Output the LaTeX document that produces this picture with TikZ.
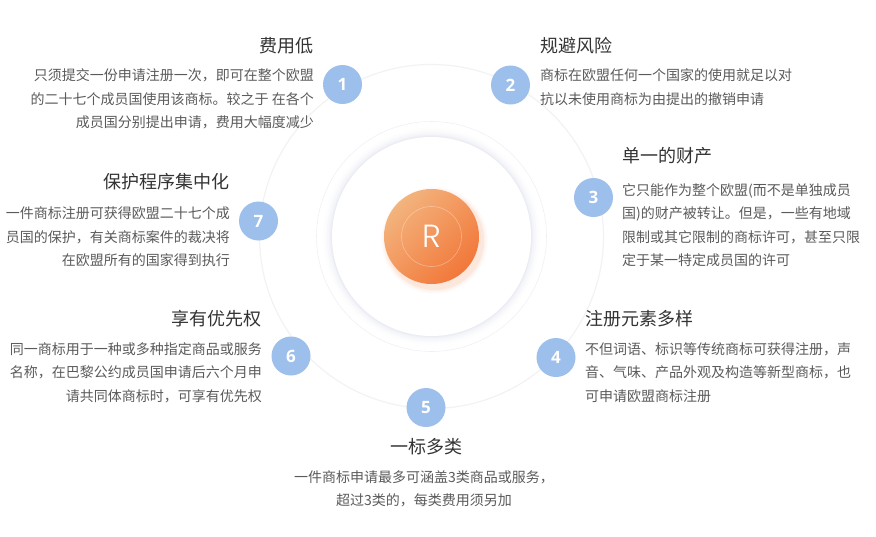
\documentclass[tikz,border=0pt]{standalone}
\usepackage{fontspec}
\setmainfont{Noto Sans CJK SC}
\newfontfamily\numfont{Open Sans}
\newfontfamily\logofont{Poppins Light}
\definecolor{numblue}{HTML}{9DBFEB}
\definecolor{titlegray}{HTML}{333333}
\definecolor{textgray}{HTML}{5A5A5A}
\definecolor{ringgray}{HTML}{D5DAE8}
\definecolor{orangelt}{HTML}{F3B47D}
\definecolor{orangedk}{HTML}{F2773A}

\tikzset{
  numcirc/.style={circle, fill=numblue, minimum size=39pt, inner sep=0pt,
    text=white, font=\numfont\bfseries\fontsize{17}{17}\selectfont},
  itemtitle/.style={inner sep=0pt, text=titlegray, font=\fontsize{18}{18}\selectfont},
  itemtext/.style={inner sep=0pt, text=textgray, font=\fontsize{14}{23.5}\selectfont},
}

\begin{document}
\begin{tikzpicture}[x=1pt, y=-1pt]
    \useasboundingbox (0,0) rectangle (876,536);
    \coordinate (hub) at (431.5,236.5);

    % faint rings
    \draw[black!5, line width=1.2pt] (hub) circle (172);
    \draw[black!6, line width=0.6pt] (hub) circle (115);
    \foreach \r/\o in {109/0.04,107/0.06,105/0.09,103/0.12,101.5/0.16,100.5/0.2}
        \fill[ringgray, opacity=\o] (hub) circle (\r);
    \fill[white] (hub) circle (99.5);

    % orange badge
    \foreach \r/\o in {53/0.04,51/0.06,49.5/0.08}
        \fill[orangedk, opacity=\o] ([shift={(3,4)}]hub) circle (\r);
    \shade[left color=orangelt, right color=orangedk, shading angle=45] (hub) circle (47.5);
    \draw[white, opacity=0.35, line width=0.6pt] (hub) circle (30);
    \node[text=white, font=\logofont\fontsize{32}{32}\selectfont] (logo) at (hub) {R};

    % numbers
    \node[numcirc] (c1) at (342.5,84.5) {1};
    \node[numcirc] (c2) at (510.5,85) {2};
    \node[numcirc] (c3) at (593.5,197.5) {3};
    \node[numcirc] (c4) at (556,357.5) {4};
    \node[numcirc] (c5) at (426,407.5) {5};
    \node[numcirc] (c6) at (291,356) {6};
    \node[numcirc] (c7) at (258.5,221) {7};

    % 1 (text nodes sit on the baseline of their last line)
    \node[itemtitle, anchor=base east] (t1) at (314,52) {费用低};
    \node[itemtext, anchor=base east, align=right] (b1) at (314,127.5)
        {只须提交一份申请注册一次，即可在整个欧盟\\的二十七个成员国使用该商标。较之于 在各个\\成员国分别提出申请，费用大幅度减少};
    % 2
    \node[itemtitle, anchor=base west] (t2) at (540,52.5) {规避风险};
    \node[itemtext, anchor=base west, align=left] (b2) at (540,104)
        {商标在欧盟任何一个国家的使用就足以对\\抗以未使用商标为由提出的撤销申请};
    % 3
    \node[itemtitle, anchor=base west] (t3) at (622,162) {单一的财产};
    \node[itemtext, anchor=base west, align=left] (b3) at (622,265.5)
        {它只能作为整个欧盟(而不是单独成员\\国)的财产被转让。但是，一些有地域\\限制或其它限制的商标许可，甚至只限\\定于某一特定成员国的许可};
    % 4
    \node[itemtitle, anchor=base west] (t4) at (585,325) {注册元素多样};
    \node[itemtext, anchor=base west, align=left] (b4) at (585,401)
        {不但词语、标识等传统商标可获得注册，声\\音、气味、产品外观及构造等新型商标，也\\可申请欧盟商标注册};
    % 5
    \node[itemtitle, anchor=base] (t5) at (426,453.5) {一标多类};
    \node[itemtext, anchor=base, align=center] (b5) at (424,505.5)
        {一件商标申请最多可涵盖3类商品或服务，\\超过3类的，每类费用须另加};
    % 6
    \node[itemtitle, anchor=base east] (t6) at (262,325) {享有优先权};
    \node[itemtext, anchor=base east, align=right] (b6) at (262,401)
        {同一商标用于一种或多种指定商品或服务\\名称，在巴黎公约成员国申请后六个月申\\请共同体商标时，可享有优先权};
    % 7
    \node[itemtitle, anchor=base east] (t7) at (230,188.5) {保护程序集中化};
    \node[itemtext, anchor=base east, align=right] (b7) at (230,265.5)
        {一件商标注册可获得欧盟二十七个成\\员国的保护，有关商标案件的裁决将\\在欧盟所有的国家得到执行};
\end{tikzpicture}
\end{document}
